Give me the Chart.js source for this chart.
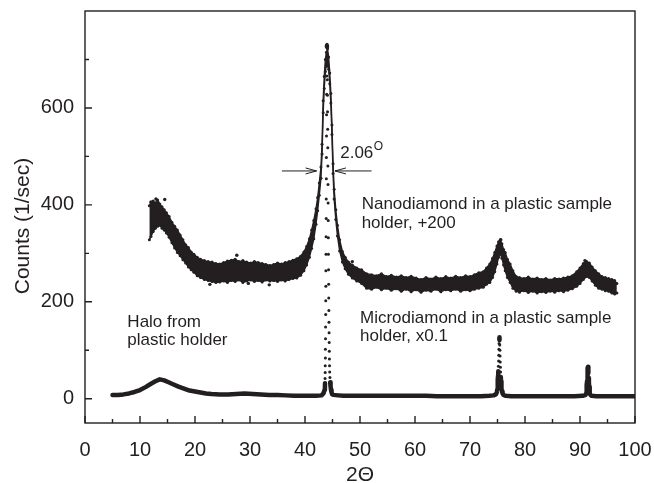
<!DOCTYPE html>
<html>
<head>
<meta charset="utf-8">
<title>XRD: nanodiamond vs microdiamond</title>
<script src="https://cdn.jsdelivr.net/npm/chart.js@4.4.1/dist/chart.umd.min.js"></script>
<style>
  html, body { margin: 0; padding: 0; background: #fff; }
  #chart { display: block; }
</style>
</head>
<body>
<canvas id="chart" width="654" height="483"></canvas>
<script>
/* ---------- DATA ---------- */
const xTicks = [0, 10, 20, 30, 40, 50, 60, 70, 80, 90, 100];
const yTicks = [0, 200, 400, 600];

// nanodiamond, +200 : lower / upper edge of the scatter band
const nanoX = [
  11.7, 12.0, 12.4, 12.8, 13.2, 13.6, 14.0, 14.4, 14.8, 15.3,
  15.8, 16.3, 16.8, 17.3, 17.8, 18.3, 18.8, 19.3, 19.8, 20.4,
  21.0, 21.7, 22.4, 23.1, 23.8, 24.5, 25.2, 25.9, 26.6, 27.3,
  28.0, 28.7, 29.4, 30.1, 30.8, 31.5, 32.2, 32.9, 33.6, 34.3,
  35.0, 35.7, 36.4, 37.1, 37.8, 38.5, 39.2, 39.8, 40.3, 40.8,
  41.2, 41.6, 42.0, 42.3, 42.6, 42.9, 43.1, 43.3, 43.5, 43.7,
  43.9, 44.1, 44.3, 44.5, 44.7, 44.9, 45.1, 45.3, 45.6, 45.9,
  46.3, 46.8, 47.3, 47.9, 48.6, 49.4, 50.3, 51.2, 52.1, 53.0,
  53.9, 54.8, 55.7, 56.6, 57.5, 58.4, 59.3, 60.2, 61.1, 62.0,
  62.9, 63.8, 64.7, 65.6, 66.5, 67.4, 68.3, 69.2, 70.0, 70.8,
  71.6, 72.4, 73.0, 73.6, 74.1, 74.5, 74.9, 75.2, 75.5, 75.8,
  76.1, 76.4, 76.8, 77.3, 77.8, 78.4, 79.0, 79.8, 80.6, 81.4,
  82.2, 83.0, 83.8, 84.6, 85.4, 86.2, 87.0, 87.8, 88.6, 89.4,
  90.0, 90.6, 91.2, 91.7, 92.2, 92.8, 93.4, 94.0, 94.6, 95.2,
  95.8, 96.3, 96.7
];
const nanoLo = [
  328, 335, 345, 352, 356, 358, 352, 348, 342, 333,
  322, 311, 302, 295, 287, 280, 272, 266, 261, 254,
  250, 246, 244, 242, 240, 241, 243, 240, 244, 242,
  245, 240, 243, 245, 242, 244, 241, 245, 243, 244,
  242, 245, 243, 246, 248, 249, 255, 264, 276, 292,
  310, 330, 360, 388, 420, 455, 505, 590, 640, 675,
  690, 695, 680, 650, 610, 545, 465, 412, 370, 336,
  305, 282, 268, 257, 249, 243, 238, 228, 226, 230,
  225, 228, 224, 227, 222, 226, 221, 225, 220, 224,
  222, 226, 221, 225, 223, 226, 222, 225, 223, 226,
  228, 230, 236, 240, 250, 262, 278, 292, 300, 290,
  276, 264, 250, 240, 228, 222, 220, 223, 219, 222,
  218, 221, 219, 222, 220, 223, 221, 224, 227, 232,
  238, 246, 252, 250, 243, 234, 228, 226, 223, 222,
  218, 216, 218
];
const nanoHi = [
  398, 405, 408, 404, 410, 402, 396, 390, 384, 376,
  364, 356, 348, 338, 328, 318, 312, 303, 298, 292,
  288, 285, 283, 282, 279, 278, 281, 284, 286, 288,
  283, 285, 282, 280, 283, 281, 279, 277, 275, 277,
  280, 278, 281, 283, 286, 289, 294, 303, 314, 330,
  348, 368, 392, 415, 445, 478, 525, 615, 665, 700,
  715, 722, 705, 672, 630, 565, 485, 432, 390, 358,
  328, 304, 292, 282, 276, 270, 266, 258, 256, 254,
  258, 252, 255, 251, 254, 250, 253, 249, 246, 250,
  247, 251, 248, 252, 249, 253, 250, 254, 252, 256,
  260, 262, 270, 278, 290, 302, 315, 324, 328, 320,
  308, 302, 288, 278, 264, 252, 250, 248, 251, 247,
  249, 246, 248, 245, 248, 247, 249, 251, 254, 262,
  270, 279, 283, 280, 272, 264, 258, 252, 250, 248,
  246, 244, 238
];
// single dots lying outside the band
const nanoStrayX = [12.0, 12.9, 14.5, 22.7, 27.6, 29.7, 33.5, 44.0, 48.6, 57.6, 75.6, 90.9];
const nanoStrayY = [406, 412, 411, 236, 296, 238, 235, 731, 283, 224, 328, 285];

// microdiamond, x0.1
const microX = [
  5.0, 5.5, 6.0, 7.0, 8.0, 9.0, 10.0, 11.0, 12.0, 12.8,
  13.6, 14.4, 15.2, 16.0, 17.0, 18.0, 19.0, 20.0, 21.0, 22.0,
  23.0, 24.5, 26.0, 27.5, 29.0, 30.5, 32.0, 33.5, 35.0, 36.5,
  38.0, 39.5, 41.0, 42.0, 43.0, 43.35, 43.55,
  43.62, 43.64, 43.65, 43.67, 43.68, 43.70, 43.71, 43.73, 43.74, 43.76,
  43.77, 43.79, 43.80, 43.82, 43.83, 43.85, 43.86, 43.88, 43.89, 43.91,
  43.92, 43.94, 43.95, 43.97, 43.98,
  44.00, 44.02, 44.04, 44.06, 44.08, 44.10, 44.12, 44.14, 44.16, 44.18,
  44.20, 44.22, 44.24, 44.26, 44.28, 44.30, 44.32, 44.34, 44.36, 44.38,
  44.40, 44.42, 44.44, 44.46, 44.49, 44.53, 44.58, 44.65, 44.73, 44.83,
  44.95,
  45.2, 46.0, 47.0, 48.5, 50.0, 52.0, 54.0, 56.0, 58.0, 60.0,
  62.0, 64.0, 66.0, 68.0, 70.0, 72.0, 73.5, 74.3, 74.7,
  74.90, 74.95, 75.00, 75.04, 75.08, 75.11, 75.14, 75.17, 75.20, 75.23,
  75.26, 75.29, 75.32, 75.35, 75.38, 75.41, 75.44, 75.47, 75.50, 75.53,
  75.56, 75.60, 75.64, 75.69, 75.75, 75.82, 75.92, 76.1, 76.5,
  77.5, 79.0, 81.0, 83.0, 85.0, 87.0, 89.0, 90.5, 91.0,
  91.10, 91.16, 91.21, 91.26, 91.30, 91.34, 91.38, 91.42, 91.46, 91.50,
  91.54, 91.58, 91.62, 91.67, 91.73, 91.80, 91.90, 92.1,
  93.0, 94.5, 96.0, 97.5, 99.0, 100.0
];
const microY = [
  8, 8, 8, 9, 11, 14, 18, 24, 31, 36,
  40, 38, 34, 30, 25, 21, 17, 15, 13, 11,
  10, 9, 9, 10, 11, 10, 9, 8, 8, 7,
  6, 6, 6, 6, 7, 11, 18,
  24, 32, 42, 54, 68, 84, 102, 124, 148, 174,
  202, 232, 264, 298, 334, 372, 412, 454, 498, 542,
  586, 628, 666, 700, 728,
  726, 710, 686, 658, 626, 592, 556, 518, 480, 442,
  404, 368, 332, 298, 266, 236, 208, 182, 158, 136,
  116, 98, 82, 68, 55, 44, 34, 25, 18, 13,
  9,
  8, 7, 6, 6, 6, 6, 6, 6, 6, 6,
  6, 5, 5, 5, 5, 5, 6, 7, 9,
  14, 19, 25, 32, 40, 48, 57, 67, 78, 90,
  102, 114, 124, 127, 121, 111, 100, 88, 76, 65,
  55, 45, 36, 28, 21, 15, 11, 8, 6,
  5, 5, 5, 5, 5, 5, 5, 6, 8,
  11, 15, 21, 29, 37, 46, 55, 63, 66, 62,
  53, 43, 34, 25, 17, 12, 8, 6,
  5, 5, 5, 5, 5, 5
];

/* ---------- STYLE ---------- */
const ink = '#231f20';
const fontFamily = '"Liberation Sans", Arial, Helvetica, sans-serif';
Chart.defaults.font.family = fontFamily;
Chart.defaults.color = ink;

const toPoints = (xs, ys) => xs.map((x, i) => ({ x, y: ys[i] }));

/* ---------- FRAME, TICKS, NOTES ---------- */
const notes = [
  { text: 'Halo from', x: 7.7, y: 149 },
  { text: 'plastic holder', x: 7.7, y: 111 },
  { text: 'Nanodiamond in a plastic sample', x: 50.3, y: 391 },
  { text: 'holder, +200', x: 50.3, y: 353 },
  { text: 'Microdiamond in a plastic sample', x: 50.0, y: 157 },
  { text: 'holder, x0.1', x: 50.0, y: 120 }
];

function arrow(ctx, x0, y0, x1, y1) {
  const dir = Math.sign(x1 - x0);
  ctx.beginPath();
  ctx.moveTo(x0, y0);
  ctx.lineTo(x1, y1);
  ctx.moveTo(x1 - dir * 11, y1 - 3);
  ctx.lineTo(x1, y1);
  ctx.lineTo(x1 - dir * 11, y1 + 3);
  ctx.stroke();
}

const decorPlugin = {
  id: 'decor',
  afterDraw(chart) {
    const { ctx, chartArea: a, scales: { x, y } } = chart;
    ctx.save();
    ctx.strokeStyle = ink;
    ctx.fillStyle = ink;

    // box
    ctx.lineWidth = 1.4;
    ctx.strokeRect(a.left, a.top, a.right - a.left, a.bottom - a.top);

    // inward ticks, minor ones between labels
    ctx.beginPath();
    for (let v = 0; v <= 100; v += 5) {
      const px = x.getPixelForValue(v);
      ctx.moveTo(px, a.bottom);
      ctx.lineTo(px, a.bottom - (v % 10 === 0 ? 7 : 4));
    }
    for (let v = 0; v <= 700; v += 100) {
      const py = y.getPixelForValue(v);
      ctx.moveTo(a.left, py);
      ctx.lineTo(a.left + (v % 200 === 0 ? 7 : 4), py);
    }
    ctx.stroke();

    // axis titles
    ctx.font = '21px ' + fontFamily;
    ctx.textAlign = 'center';
    ctx.textBaseline = 'alphabetic';
    ctx.fillText('2\u0398', (a.left + a.right) / 2, 481);
    ctx.save();
    ctx.translate(28.5, 226);
    ctx.rotate(-Math.PI / 2);
    ctx.fillText('Counts (1/sec)', 0, 0);
    ctx.restore();

    // notes
    ctx.textAlign = 'left';
    ctx.font = '17px ' + fontFamily;
    notes.forEach(n => {
      ctx.fillText(n.text, x.getPixelForValue(n.x), y.getPixelForValue(n.y));
    });

    // FWHM marker
    const fx = x.getPixelForValue(46.4);
    const fy = y.getPixelForValue(496);
    ctx.fillText('2.06', fx, fy);
    const w = ctx.measureText('2.06').width;
    ctx.font = '12px ' + fontFamily;
    ctx.fillText('O', fx + w + 0.5, fy - 8);

    ctx.lineWidth = 1;
    const ay = y.getPixelForValue(470);
    arrow(ctx, x.getPixelForValue(35.8), ay, x.getPixelForValue(42.1), ay);
    arrow(ctx, x.getPixelForValue(52.1), ay, x.getPixelForValue(45.45), ay);

    ctx.restore();
  }
};

/* ---------- CHART ---------- */
const dotStyle = {
  pointRadius: 1.5,
  pointBackgroundColor: ink,
  pointBorderWidth: 0,
  pointHoverRadius: 1.5
};

new Chart(document.getElementById('chart'), {
  type: 'scatter',
  plugins: [decorPlugin],
  data: {
    datasets: [
      {
        label: 'Nanodiamond (lower edge)',
        data: toPoints(nanoX, nanoLo),
        showLine: true,
        borderColor: ink,
        borderWidth: 1.4,
        fill: false,
        ...dotStyle
      },
      {
        label: 'Nanodiamond (upper edge)',
        data: toPoints(nanoX, nanoHi),
        showLine: true,
        borderColor: ink,
        borderWidth: 1.4,
        backgroundColor: ink,
        fill: '-1',
        ...dotStyle
      },
      {
        label: 'Nanodiamond (stray)',
        data: toPoints(nanoStrayX, nanoStrayY),
        showLine: false,
        ...dotStyle,
        pointRadius: 1.7
      },
      {
        label: 'Microdiamond',
        data: toPoints(microX, microY),
        showLine: true,
        borderColor: ink,
        borderWidth: 4.5,
        borderJoinStyle: 'round',
        borderCapStyle: 'round',
        fill: false,
        segment: {
          // steep flanks show only the dots
          borderColor: c => Math.abs(c.p1.parsed.y - c.p0.parsed.y) > 9 ? 'transparent' : ink
        },
        ...dotStyle
      }
    ]
  },
  options: {
    responsive: false,
    animation: false,
    layout: { padding: { top: 11, right: 19, left: 0, bottom: 0 } },
    plugins: {
      legend: { display: false },
      tooltip: { enabled: false }
    },
    scales: {
      x: {
        type: 'linear',
        min: 0,
        max: 100,
        afterBuildTicks(s) { s.ticks = xTicks.map(v => ({ value: v })); },
        afterFit(s) {
          s.height = 60;
          // labels at the ends may overhang; the layout padding covers them
          s.paddingLeft = 0;
          s.paddingRight = 0;
        },
        grid: { display: false, drawTicks: false },
        border: { display: false },
        ticks: { font: { size: 20 }, color: ink, padding: 15, maxRotation: 0, autoSkip: false }
      },
      y: {
        type: 'linear',
        min: -50,
        max: 800,
        afterBuildTicks(s) { s.ticks = yTicks.map(v => ({ value: v })); },
        afterFit(s) {
          s.width = 85;
          s.paddingTop = 0;
          s.paddingBottom = 0;
        },
        grid: { display: false, drawTicks: false },
        border: { display: false },
        ticks: { font: { size: 20 }, color: ink, padding: 11 }
      }
    }
  }
});
</script>
</body>
</html>
